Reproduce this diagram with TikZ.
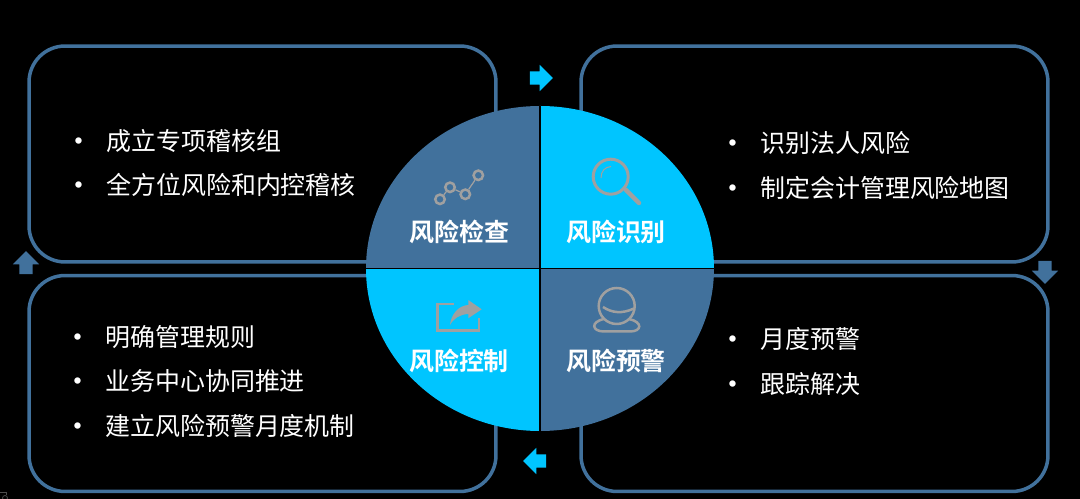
\documentclass[tikz,border=0pt]{standalone}
\usepackage{fontspec}
\setmainfont{Noto Sans CJK SC}[BoldFont={Noto Sans CJK SC Bold}]
\usetikzlibrary{shapes.arrows}
\definecolor{steel}{HTML}{41719C}
\definecolor{sky}{HTML}{00C5FF}
\definecolor{icon}{HTML}{A0A0A0}
\tikzset{
  panel/.style={draw=steel, line width=0.07cm, rounded corners=0.72cm, minimum width=9.34cm, minimum height=4.32cm},
  item/.style={anchor=west, inner sep=0pt, text=white, font=\fontsize{14.2}{16}\selectfont},
  title/.style={inner sep=0pt, text=white, font=\fontsize{14.2}{16}\selectfont\bfseries},
  turn/.style={single arrow, inner sep=0.125cm, minimum width=0.52cm, minimum height=0.46cm, single arrow head extend=0.13cm},
  dot/.style={circle, draw=icon, line width=0.05cm, minimum size=0.19cm, inner sep=0pt},
  glyph/.style={draw=icon, line width=0.05cm}
}
\newcommand{\itemtext}[1]{\makebox[0.54cm][l]{\hspace{-0.25cm}\bfseries •}#1}
\begin{document}
\begin{tikzpicture}[x=0.02cm, y=-0.02cm]
  \fill[black] (0,0) rectangle (1080,499);
  \useasboundingbox (0,0) rectangle (1080,499);

  \node[panel] (check) at (262.5,154) {};
  \node[panel] (identify) at (814.5,154) {};
  \node[panel] (control) at (262.5,383.5) {};
  \node[panel] (warn) at (814.5,383.5) {};

  \node[turn, fill=sky] (toright) at (538,78) {};
  \node[turn, fill=steel, shape border rotate=270] (todown) at (1045,269) {};
  \node[turn, fill=sky, shape border rotate=180] (toleft) at (538,461) {};
  \node[turn, fill=steel, shape border rotate=90] (toup) at (26,266) {};

  \coordinate (mid) at (540,268.5);
  \fill[sky] (mid) -- (714,268.5) arc[start angle=0, end angle=-90, x radius=174, y radius=162.5] -- cycle;
  \fill[steel] (mid) -- (714,268.5) arc[start angle=0, end angle=90, x radius=174, y radius=162.5] -- cycle;
  \fill[sky] (mid) -- (540,431) arc[start angle=90, end angle=180, x radius=174, y radius=162.5] -- cycle;
  \fill[steel] (mid) -- (366,268.5) arc[start angle=180, end angle=270, x radius=174, y radius=162.5] -- cycle;
  \draw[black, line width=0.03cm] (366,268.5) -- (714,268.5);
  \draw[black, line width=0.03cm] (540,106) -- (540,431);

  \node[dot] (a) at (440,199.3) {};
  \node[dot] (b) at (450,187.3) {};
  \node[dot] (c) at (465.3,194.3) {};
  \node[dot] (d) at (478.3,175.3) {};
  \draw[draw=icon, line width=0.025cm] (a) -- (b) -- (c) -- (d);

  \node[circle, draw=icon, line width=0.06cm, minimum size=0.7cm, inner sep=0pt] (lens) at (610.7,176.7) {};
  \coordinate (grip) at (639,203);
  \draw[draw=icon, line width=0.04cm] (lens) -- (grip);
  \draw[draw=icon, line width=0.09cm, line cap=round] (626,190) -- (grip);
  \draw[draw=icon, line width=0.02cm] (601,178) .. controls (601,171) and (605,167) .. (611,166.5);

  \draw[glyph] (453.5,304) -- (437.5,304) -- (437.5,330.5) -- (479,330.5) -- (479,318);
  \fill[icon] (481.7,309.3) -- (468.3,300) -- (468.3,305) .. controls (458,305.5) and (451,315) .. (450,325) .. controls (454,318) and (460,314.5) .. (468.3,314) -- (468.3,318.3) -- cycle;

  \node[circle, draw=icon, line width=0.05cm, minimum size=0.72cm, inner sep=0pt] (globe) at (616.7,306) {};
  \draw[glyph] (603,307) .. controls (612,313) and (622,314) .. (634,308.5);
  \draw[glyph] (604,319) .. controls (590,322) and (592,331.5) .. (604,331.5) -- (630,331.5) .. controls (642,331.5) and (643,322) .. (629,319);

  \node[title] (checktitle) at (459.5,232) {风险检查};
  \node[title] (identifytitle) at (616,232) {风险识别};
  \node[title] (controltitle) at (459,361) {风险控制};
  \node[title] (warntitle) at (616,361) {风险预警};

  \node[item] (check1) at (79,141) {\itemtext{成立专项稽核组}};
  \node[item] (check2) at (79,185) {\itemtext{全方位风险和内控稽核}};
  \node[item] (identify1) at (733,143) {\itemtext{识别法人风险}};
  \node[item] (identify2) at (733,188) {\itemtext{制定会计管理风险地图}};
  \node[item] (control1) at (78,337) {\itemtext{明确管理规则}};
  \node[item] (control2) at (78,381) {\itemtext{业务中心协同推进}};
  \node[item] (control3) at (78,426) {\itemtext{建立风险预警月度机制}};
  \node[item] (warn1) at (733,339) {\itemtext{月度预警}};
  \node[item] (warn2) at (733,384) {\itemtext{跟踪解决}};

  \draw[draw=black!70!white, line width=0.015cm] (0,492) -- (6,492) -- (6,495);
  \draw[draw=black!70!white, line width=0.015cm] (5,498) circle[radius=2.5];
\end{tikzpicture}
\end{document}
